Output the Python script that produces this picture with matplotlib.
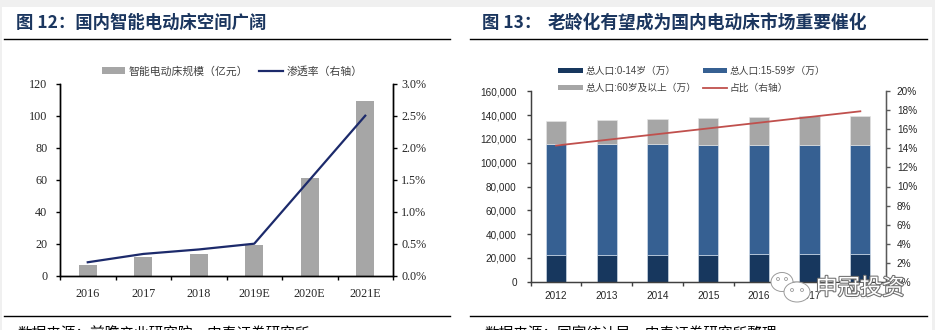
import matplotlib
matplotlib.use('Agg')
import matplotlib.pyplot as plt
from matplotlib.patches import Rectangle, Ellipse, Patch
from matplotlib.lines import Line2D
from matplotlib.ticker import FixedLocator, FuncFormatter
import matplotlib.patheffects as pe
import numpy as np

# ---------------- data ----------------
years_left = ['2016', '2017', '2018', '2019E', '2020E', '2021E']
market_size = [7, 12, 13.5, 19, 61, 109]            # 亿元
penetration = [0.21, 0.34, 0.41, 0.50, 1.50, 2.50]  # %

years_right = ['2012', '2013', '2014', '2015', '2016', '2017', '2018']
pop_0_14 = [22287, 22329, 22558, 22715, 23008, 23348, 23523]
pop_15_59 = [93727, 93500, 92982, 92547, 92177, 91570, 91066]
pop_60 = [19390, 20243, 21242, 22200, 23086, 24090, 24949]
share_60 = [14.3, 14.9, 15.5, 16.1, 16.7, 17.3, 17.9]  # %

title_left = '图 12：国内智能电动床空间广阔'
title_right_a = '图 13：'
title_right_b = '老龄化有望成为国内电动床市场重要催化'
legend_left = ['智能电动床规模（亿元）', '渗透率（右轴）']
legend_right = ['总人口:0-14岁（万）', '总人口:15-59岁（万）', '总人口:60岁及以上（万）', '占比（右轴）']
source_left = '数据来源：前瞻产业研究院，中泰证券研究所'
source_right = '数据来源：国家统计局，中泰证券研究所整理'

# ---------------- style ----------------
W, H = 935, 330
CJK = ['Noto Sans CJK SC', 'DejaVu Sans']
SERIF = ['Liberation Serif', 'Noto Sans CJK SC']
SANS = ['Liberation Sans', 'Noto Sans CJK SC']
NAVY_T = '#1b365f'
GRAY_BAR = '#a6a6a6'
NAVY_LINE = '#1c2a6b'
C014 = '#17375e'
C1559 = '#366092'
C60 = '#a6a6a6'
RED = '#c0504d'

fig = plt.figure(figsize=(9.35, 3.3), dpi=100)
fig.patch.set_facecolor('white')


def fx(px):
    return px / W


def fy(py):
    return 1 - py / H


# gray frame bands
fig.patches.append(Rectangle((0, fy(7)), 1, 7 / H, transform=fig.transFigure,
                             facecolor='#f0f0f0', edgecolor='none', zorder=-5))
fig.patches.append(Rectangle((0, 0), 2 / W, 1, transform=fig.transFigure,
                             facecolor='#f0f0f0', edgecolor='none', zorder=-5))
fig.patches.append(Rectangle((fx(932), 0), 3 / W, 1, transform=fig.transFigure,
                             facecolor='#f0f0f0', edgecolor='none', zorder=-5))

# ---------------- left chart ----------------
ax1 = fig.add_axes([fx(60), fy(275.7), (393 - 60) / W, (275.7 - 83.7) / H])
x1 = np.arange(len(years_left))
ax1.bar(x1, market_size, width=0.32, color=GRAY_BAR, zorder=2)
ax1.set_xlim(-0.5, len(years_left) - 0.5)
ax1.set_ylim(0, 120)
ax1.yaxis.set_major_locator(FixedLocator(np.arange(0, 121, 20)))
ax1.set_xticks(x1)
ax1.set_xticklabels(years_left)
ax1.set_xticks(np.arange(-0.5, len(years_left), 1), minor=True)
ax1.tick_params(axis='x', which='major', length=0, pad=9)
ax1.tick_params(axis='x', which='minor', length=3, direction='out', width=1)
ax1.tick_params(axis='y', length=3, direction='out', width=1, pad=6)
for lab in ax1.get_xticklabels() + ax1.get_yticklabels():
    lab.set_fontfamily(SERIF)
    lab.set_fontsize(8.7)
    lab.set_color('#262626')
ax1.spines['top'].set_visible(False)
for s in ['left', 'right', 'bottom']:
    ax1.spines[s].set_color('black')
    ax1.spines[s].set_linewidth(1)

ax2 = ax1.twinx()
ax2.plot(x1, np.array(penetration) / 100, color=NAVY_LINE, lw=1.6, zorder=3)
ax2.set_ylim(0, 0.03)
ax2.yaxis.set_major_locator(FixedLocator(np.arange(0, 0.0301, 0.005)))
ax2.yaxis.set_major_formatter(FuncFormatter(lambda v, p: f'{v*100:.1f}%'))
ax2.tick_params(axis='y', length=3, direction='out', width=1, pad=3)
for lab in ax2.get_yticklabels():
    lab.set_fontfamily(SERIF)
    lab.set_fontsize(8.7)
    lab.set_color('#262626')
ax2.spines['top'].set_visible(False)
for s in ['left', 'right', 'bottom']:
    ax2.spines[s].set_color('black')
    ax2.spines[s].set_linewidth(1)

h_left = [Patch(facecolor=GRAY_BAR, edgecolor='none'),
          Line2D([], [], color=NAVY_LINE, lw=1.6)]
fig.legend(h_left, legend_left, loc='center', bbox_to_anchor=(fx(232), fy(71)),
           ncol=2, frameon=False, prop={'family': CJK, 'size': 7.8},
           labelcolor='#404040', handlelength=2.2, handleheight=0.5,
           handletextpad=0.3, columnspacing=1.0, borderpad=0, borderaxespad=0)

# ---------------- right chart ----------------
ax3 = fig.add_axes([fx(530.7), fy(281.7), (885.7 - 530.7) / W, (281.7 - 91.3) / H])
x3 = np.arange(len(years_right))
b1 = np.array(pop_0_14)
b2 = np.array(pop_15_59)
b3 = np.array(pop_60)
ax3.bar(x3, b1, width=0.4, color=C014, edgecolor='#dce6f2', linewidth=0.4, zorder=2)
ax3.bar(x3, b2, width=0.4, bottom=b1, color=C1559, edgecolor='#dce6f2', linewidth=0.4, zorder=2)
ax3.bar(x3, b3, width=0.4, bottom=b1 + b2, color=C60, edgecolor='#e6e6e6', linewidth=0.4, zorder=2)
ax3.set_xlim(-0.5, len(years_right) - 0.5)
ax3.set_ylim(0, 160000)
ax3.yaxis.set_major_locator(FixedLocator(np.arange(0, 160001, 20000)))
ax3.yaxis.set_major_formatter(FuncFormatter(lambda v, p: f'{v:,.0f}'))
ax3.set_xticks(x3)
ax3.set_xticklabels(years_right)
ax3.set_xticks(np.arange(-0.5, len(years_right), 1), minor=True)
ax3.tick_params(axis='x', which='major', length=0, pad=7)
ax3.tick_params(axis='x', which='minor', length=3, direction='out', width=1, color='#404040')
ax3.tick_params(axis='y', length=3, direction='out', width=1, pad=7, color='#404040')
for lab in ax3.get_xticklabels() + ax3.get_yticklabels():
    lab.set_fontfamily(SANS)
    lab.set_fontsize(7.2)
    lab.set_color('#262626')
ax3.spines['top'].set_visible(False)
for s in ['left', 'right', 'bottom']:
    ax3.spines[s].set_color('#404040')
    ax3.spines[s].set_linewidth(1)

ax4 = ax3.twinx()
ax4.plot(x3, np.array(share_60) / 100, color=RED, lw=1.3, zorder=3)
ax4.set_ylim(0, 0.20)
ax4.yaxis.set_major_locator(FixedLocator(np.arange(0, 0.2001, 0.02)))
ax4.yaxis.set_major_formatter(FuncFormatter(lambda v, p: f'{v*100:.0f}%'))
ax4.tick_params(axis='y', length=3, direction='out', width=1, pad=5, color='#595959')
for lab in ax4.get_yticklabels():
    lab.set_fontfamily(SANS)
    lab.set_fontsize(7.2)
    lab.set_color('#262626')
ax4.spines['top'].set_visible(False)
ax4.spines['right'].set_color('#595959')
ax4.spines['left'].set_color('#404040')
ax4.spines['bottom'].set_color('#404040')

h_right = [Patch(facecolor=C014, edgecolor='none'),
           Patch(facecolor=C60, edgecolor='none'),
           Patch(facecolor=C1559, edgecolor='none'),
           Line2D([], [], color=RED, lw=1.3)]
lab_right = [legend_right[0], legend_right[2], legend_right[1], legend_right[3]]
fig.legend(h_right, lab_right, loc='center', bbox_to_anchor=(fx(692), fy(79.5)),
           ncol=2, frameon=False, prop={'family': SANS, 'size': 7},
           labelcolor='#404040', handlelength=2.5, handleheight=0.5,
           handletextpad=0.3, columnspacing=0.6, labelspacing=0.75,
           borderpad=0, borderaxespad=0)

# ---------------- overlay (titles, rules, source, watermark) ----------------
ov = fig.add_axes([0, 0, 1, 1], zorder=20)
ov.set_xlim(0, W)
ov.set_ylim(H, 0)
ov.set_axis_off()
ov.patch.set_visible(False)

ov.text(16, 23, title_left, fontsize=12.5, fontweight='bold', color=NAVY_T,
        family=CJK, va='center', ha='left')
ov.text(482, 23, title_right_a, fontsize=12.5, fontweight='bold', color=NAVY_T,
        family=CJK, va='center', ha='left')
ov.text(548, 23, title_right_b, fontsize=12.8, fontweight='bold', color=NAVY_T,
        family=CJK, va='center', ha='left')
ov.plot([4, 450], [39, 39], color='black', lw=1)
ov.plot([470, 927], [39, 39], color='black', lw=1)
ov.plot([4, 450], [316, 316], color='black', lw=1)
ov.plot([470, 927], [316, 316], color='black', lw=1)
ov.text(17, 326, source_left, fontsize=10.5, color='black', family=CJK,
        va='top', ha='left')
ov.text(484, 326, source_right, fontsize=10.5, color='black', family=CJK,
        va='top', ha='left')

# watermark
ov.add_patch(Rectangle((835, 283), 70, 17, facecolor='white', edgecolor='none', alpha=0.95))
ov.add_patch(Ellipse((782, 282), 22, 19, facecolor='white', edgecolor='#9a9a9a', lw=0.7))
ov.add_patch(Ellipse((797, 292), 26, 20, facecolor='white', edgecolor='#9a9a9a', lw=0.7))
for cx, cy in [(778, 279), (786, 279), (792, 290), (802, 290)]:
    ov.add_patch(Ellipse((cx, cy), 3, 3, facecolor='white', edgecolor='#9a9a9a', lw=0.6))
ov.text(860, 288, '申冠投资', fontsize=16, color='white', family=CJK,
        ha='center', va='center',
        path_effects=[pe.withStroke(linewidth=1.5, foreground='#6f6f6f')])

fig.savefig('out.png', dpi=100)
